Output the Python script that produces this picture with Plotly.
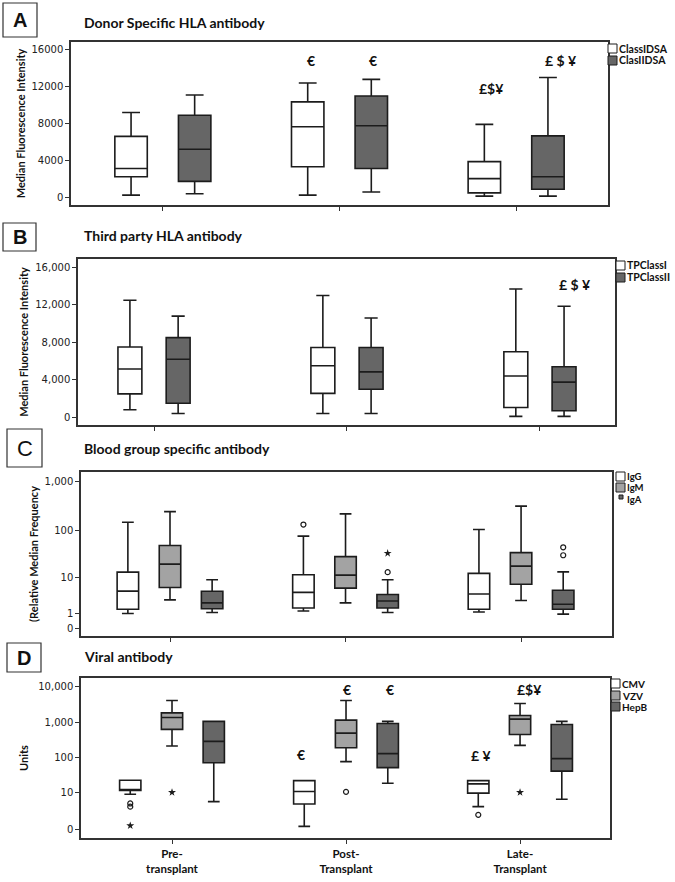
import math
import plotly.graph_objects as go
from plotly.subplots import make_subplots

W, H = 675, 882

stages = ["Pre-transplant", "Post-Transplant", "Late-Transplant"]
stage_labels = ["<b>Pre-<br>transplant</b>", "<b>Post-<br>Transplant</b>", "<b>Late-<br>Transplant</b>"]

# A: donor specific HLA antibody (MFI)
dsa_names = ["ClassIDSA", "ClasIIDSA"]
dsa_lower = [[200, 200, 100], [350, 550, 100]]
dsa_q1 = [[2200, 3300, 450], [1700, 3100, 850]]
dsa_median = [[3100, 7650, 2000], [5200, 7750, 2200]]
dsa_q3 = [[6600, 10350, 3850], [8900, 11000, 6650]]
dsa_upper = [[9200, 12400, 7900], [11100, 12800, 13000]]
dsa_marks = [("ClassIDSA", 1, 14900, "€"), ("ClasIIDSA", 1, 14900, "€"),
             ("ClassIDSA", 2, 11800, "£$¥"), ("ClasIIDSA", 2, 14900, "£ $ ¥")]

# B: third party HLA antibody (MFI)
tp_names = ["TPClassI", "TPClassII"]
tp_lower = [[800, 400, 100], [400, 400, 100]]
tp_q1 = [[2500, 2550, 1050], [1500, 3000, 700]]
tp_median = [[5150, 5500, 4400], [6200, 4850, 3750]]
tp_q3 = [[7500, 7450, 7000], [8500, 7450, 5400]]
tp_upper = [[12500, 13000, 13700], [10800, 10600, 11850]]
tp_marks = [("TPClassII", 2, 14150, "£ $ ¥")]

# C: blood group specific antibody (relative median frequency)
abo_names = ["IgG", "IgM", "IgA"]
abo_lower = [[1.0, 1.25, 1.15], [2.8, 2.3, 2.7], [1.1, 1.1, 0.95]]
abo_q1 = [[1.45, 1.6, 1.45], [5.8, 5.6, 6.9], [1.5, 1.6, 1.45]]
abo_median = [[4.75, 4.4, 4.0], [19.4, 11.2, 17.6], [2.3, 2.6, 2.1]]
abo_q3 = [[13, 11.4, 12.2], [48, 28, 34], [4.7, 3.9, 5.0]]
abo_upper = [[145, 75, 103], [240, 215, 310], [8.8, 8.8, 13.2]]
abo_outliers = [("IgG", 1, 130, "o"), ("IgA", 1, 33, "*"), ("IgA", 1, 13, "o"),
                ("IgA", 2, 44, "o"), ("IgA", 2, 30, "o")]

# D: viral antibody (units)
viral_names = ["CMV", "VZV", "HepB"]
viral_lower = [[8.8, 0.24, 3.4], [215, 78, 224], [5.1, 18.8, 6.1]]
viral_q1 = [[11.4, 4.2, 9.5], [625, 193, 453], [73, 53, 42]]
viral_median = [[11.6, 10.6, 18], [1350, 494, 1210], [290, 131, 95]]
viral_q3 = [[23, 22.4, 22.4], [1815, 1135, 1530], [1045, 918, 860]]
viral_upper = [[23, 22.4, 22.4], [4000, 4000, 3300], [1045, 1045, 1045]]
viral_outliers = [("CMV", 0, 4.4, "o"), ("CMV", 0, 3.4, "o"), ("CMV", 0, 0.3, "*"),
                  ("CMV", 2, 1.6, "o"), ("VZV", 0, 10, "*"), ("VZV", 1, 10.4, "o"),
                  ("VZV", 2, 10, "*")]
viral_marks = [("CMV", 1, 125, "€"), ("VZV", 1, 8000, "€"), ("HepB", 1, 8000, "€"),
               ("CMV", 2, 120, "£ ¥"), ("VZV", 2, 8000, "£$¥")]

WHITE, MID, DARK = "#ffffff", "#a3a3a3", "#666666"
LINE = "#1c1c1c"
FRAME = "#333333"
BOX_GAP, BOX_GROUPGAP = 0.28, 0.49
TITLE_FONT = "Lato"
TICK_FONT = dict(family="DejaVu Sans", size=10, color="#222222")
MARK_FONT = dict(family=TITLE_FONT, size=14, color="#111111")

# panel geometry in pixels: (left, right, top, bottom), x range
panels = {
    1: dict(px=(71, 608, 42, 205), xr=[-0.52, 2.52]),
    2: dict(px=(78, 615, 259, 425), xr=[-0.394, 2.389]),
    3: dict(px=(81, 612, 472, 636), xr=[-0.507, 2.518]),
    4: dict(px=(81, 610, 678, 838), xr=[-0.523, 2.517]),
}

fig = make_subplots(rows=4, cols=1)


def add_boxes(row, names, lower, q1, med, q3, upper, colors, log=False):
    s = 1 if log else 0
    for k, name in enumerate(names):
        fig.add_trace(go.Box(
            x=stages, name=name, offsetgroup=name,
            lowerfence=[v + s for v in lower[k]], q1=[v + s for v in q1[k]],
            median=[v + s for v in med[k]], q3=[v + s for v in q3[k]],
            upperfence=[v + s for v in upper[k]],
            fillcolor=colors[k], line=dict(color=LINE, width=1.6),
            whiskerwidth=0.55, boxpoints=False, showlegend=False), row=row, col=1)


def add_outliers(row, outliers, log=True):
    s = 1 if log else 0
    groups = {}
    for name, i, v, sym in outliers:
        groups.setdefault((name, sym), []).append((stages[i], v + s))
    for (name, sym), pts in groups.items():
        if sym == "o":
            marker = dict(symbol="circle-open", size=5, color=LINE, line=dict(width=1.2))
        else:
            marker = dict(symbol="star", size=6, color=LINE, line=dict(width=0))
        fig.add_trace(go.Scatter(x=[p[0] for p in pts], y=[p[1] for p in pts],
                                 mode="markers", marker=marker, offsetgroup=name,
                                 showlegend=False), row=row, col=1)


def offset_px(row, k, n):
    left, right, _, _ = panels[row]["px"]
    xr = panels[row]["xr"]
    cat_px = (right - left) / (xr[1] - xr[0])
    return (1 - BOX_GAP) * (-0.5 + (k + 0.5) / n) * cat_px


annotations = []
shapes = []


def add_marks(row, names, marks, log=False, shifts=None):
    axis = "" if row == 1 else str(row)
    for j, (name, i, v, text) in enumerate(marks):
        k = names.index(name)
        y = math.log10(v + 1) if log else v
        annotations.append(dict(
            x=stages[i], y=y, xref="x" + axis, yref="y" + axis, text=f"<b>{text}</b>",
            showarrow=False, xanchor="center", yanchor="middle",
            xshift=offset_px(row, k, len(names)) + (shifts[j] if shifts else 0),
            font=MARK_FONT))


# A
add_boxes(1, dsa_names, dsa_lower, dsa_q1, dsa_median, dsa_q3, dsa_upper, [WHITE, DARK])
add_marks(1, dsa_names, dsa_marks, shifts=[3, 2, 7, 13])

# B (narrower pairs than the other panels)
B_SHIFT, B_WIDTH = 0.125, 0.124
for k, name in enumerate(tp_names):
    off = (k - 0.5) * 2 * B_SHIFT
    fig.add_trace(go.Box(
        x=[i + off for i in range(len(stages))], name=name, width=B_WIDTH,
        lowerfence=tp_lower[k], q1=tp_q1[k], median=tp_median[k], q3=tp_q3[k],
        upperfence=tp_upper[k], fillcolor=[WHITE, DARK][k],
        line=dict(color=LINE, width=1.6), whiskerwidth=0.55, boxpoints=False,
        showlegend=False), row=2, col=1)
for name, i, v, text in tp_marks:
    k = tp_names.index(name)
    annotations.append(dict(x=i + (k - 0.5) * 2 * B_SHIFT, y=v, xref="x2", yref="y2",
                            text=f"<b>{text}</b>", showarrow=False, xshift=11,
                            xanchor="center", yanchor="middle", font=MARK_FONT))

# C
add_boxes(3, abo_names, abo_lower, abo_q1, abo_median, abo_q3, abo_upper, [WHITE, MID, DARK], log=True)
add_outliers(3, abo_outliers)

# D
add_boxes(4, viral_names, viral_lower, viral_q1, viral_median, viral_q3, viral_upper, [WHITE, MID, DARK], log=True)
add_outliers(4, viral_outliers)
add_marks(4, viral_names, viral_marks, log=True, shifts=[-3, 1, 2, 3, 9])

# axes
for row, p in panels.items():
    left, right, top, bottom = p["px"]
    fig.update_xaxes(domain=[left / W, right / W], range=p["xr"], showline=True, mirror=True,
                     linecolor=FRAME, linewidth=1.5, ticks="outside", ticklen=4,
                     tickcolor=FRAME, showgrid=False, zeroline=False, showticklabels=False,
                     row=row, col=1)
    fig.update_yaxes(domain=[1 - bottom / H, 1 - top / H], showline=True, mirror=True,
                     linecolor=FRAME, linewidth=1.5, ticks="outside", ticklen=4,
                     tickcolor=FRAME, showgrid=False, zeroline=False, tickfont=TICK_FONT,
                     row=row, col=1)

fig.update_xaxes(type="linear", tickvals=list(range(len(stages))), row=2, col=1)
fig.update_xaxes(showticklabels=True, tickvals=stages, ticktext=stage_labels,
                 tickfont=dict(family=TITLE_FONT, size=11.5, color="#111111"), row=4, col=1)

ytitle_font = dict(family=TITLE_FONT, size=11, color="#111111")
fig.update_yaxes(range=[-870, 16870], tickvals=[0, 4000, 8000, 12000, 16000], tickformat="d",
                 title=dict(text="<b>Median Fluorescence Intensity</b>", font=ytitle_font, standoff=4),
                 row=1, col=1)
fig.update_yaxes(range=[-824, 16898], tickvals=[0, 4000, 8000, 12000, 16000], tickformat=",d",
                 title=dict(text="<b>Median Fluorescence Intensity</b>", font=ytitle_font, standoff=4),
                 row=2, col=1)
fig.update_yaxes(type="log", range=[-0.157, 3.19], tickvals=[1, 2, 11, 101, 1001],
                 ticktext=["0", "1", "10", "100", "1,000"],
                 title=dict(text="<b>(Relative Median Frequency</b>", font=ytitle_font, standoff=4),
                 row=3, col=1)
fig.update_yaxes(type="log", range=[-0.23, 4.23], tickvals=[1, 11, 101, 1001, 10001],
                 ticktext=["0", "10", "100", "1,000", "10,000"],
                 title=dict(text="<b>Units</b>", font=ytitle_font, standoff=7),
                 row=4, col=1)

# panel letters and titles
letters = [("A", (3, 37, 3, 37), True, "Donor Specific HLA antibody", 23),
           ("B", (3, 36, 223, 251), True, "Third party HLA antibody", 235),
           ("C", (7, 42, 429, 467), False, "Blood group specific antibody", 448),
           ("D", (7, 41, 643, 672), True, "Viral antibody", 656)]
for letter, (x0, x1, y0, y1), bold, title, ty in letters:
    shapes.append(dict(type="rect", xref="paper", yref="paper", x0=x0 / W, x1=x1 / W,
                       y0=1 - y1 / H, y1=1 - y0 / H, line=dict(color=FRAME, width=1.2)))
    annotations.append(dict(x=(x0 + x1) / 2 / W, y=1 - (y0 + y1) / 2 / H, xref="paper", yref="paper",
                            xanchor="center", yanchor="middle",
                            text=f"<b>{letter}</b>" if bold else letter, showarrow=False,
                            font=dict(family="Liberation Sans", size=20 if bold else 22, color="#111111")))
    annotations.append(dict(x=82 / W, y=1 - ty / H, xref="paper", yref="paper",
                            xanchor="left", yanchor="middle",
                            text=f"<b>{title}</b>", showarrow=False,
                            font=dict(family=TITLE_FONT, size=14, color="#111111")))

# legends (drawn beside each panel)
legends = [
    (dsa_names, [WHITE, DARK], 608, [44, 56], 9, 10.5),
    (tp_names, [WHITE, DARK], 616, [261, 273], 9, 10.5),
    (abo_names, [WHITE, MID, DARK], 616, [472, 483, 495], 9, 9.5),
    (viral_names, [WHITE, MID, DARK], 611, [679, 691, 702], 9, 10),
]
for names, colors, lx, tops, size, fsize in legends:
    for name, color, top in zip(names, colors, tops):
        sz, x0 = size, lx
        if name == "IgA":
            sz, x0 = 4, lx + 3
        shapes.append(dict(type="rect", xref="paper", yref="paper", x0=x0 / W, x1=(x0 + sz) / W,
                           y0=1 - (top + sz) / H, y1=1 - top / H, fillcolor=color,
                           line=dict(color=LINE, width=1)))
        annotations.append(dict(x=(lx + size + 1) / W, y=1 - (top + 4.5) / H, xref="paper", yref="paper",
                                xanchor="left", yanchor="middle", text=f"<b>{name}</b>", showarrow=False,
                                borderpad=0, font=dict(family=TITLE_FONT, size=fsize, color="#111111")))

fig.update_layout(width=W, height=H, margin=dict(l=0, r=0, t=0, b=0),
                  boxmode="group", boxgap=BOX_GAP, boxgroupgap=BOX_GROUPGAP,
                  scattermode="group", scattergap=BOX_GAP,
                  plot_bgcolor="#ffffff", paper_bgcolor="#ffffff",
                  annotations=annotations, shapes=shapes, showlegend=False)

fig.write_html("out.html", config={"displayModeBar": False},
               post_script="document.body.style.margin = '0';")
